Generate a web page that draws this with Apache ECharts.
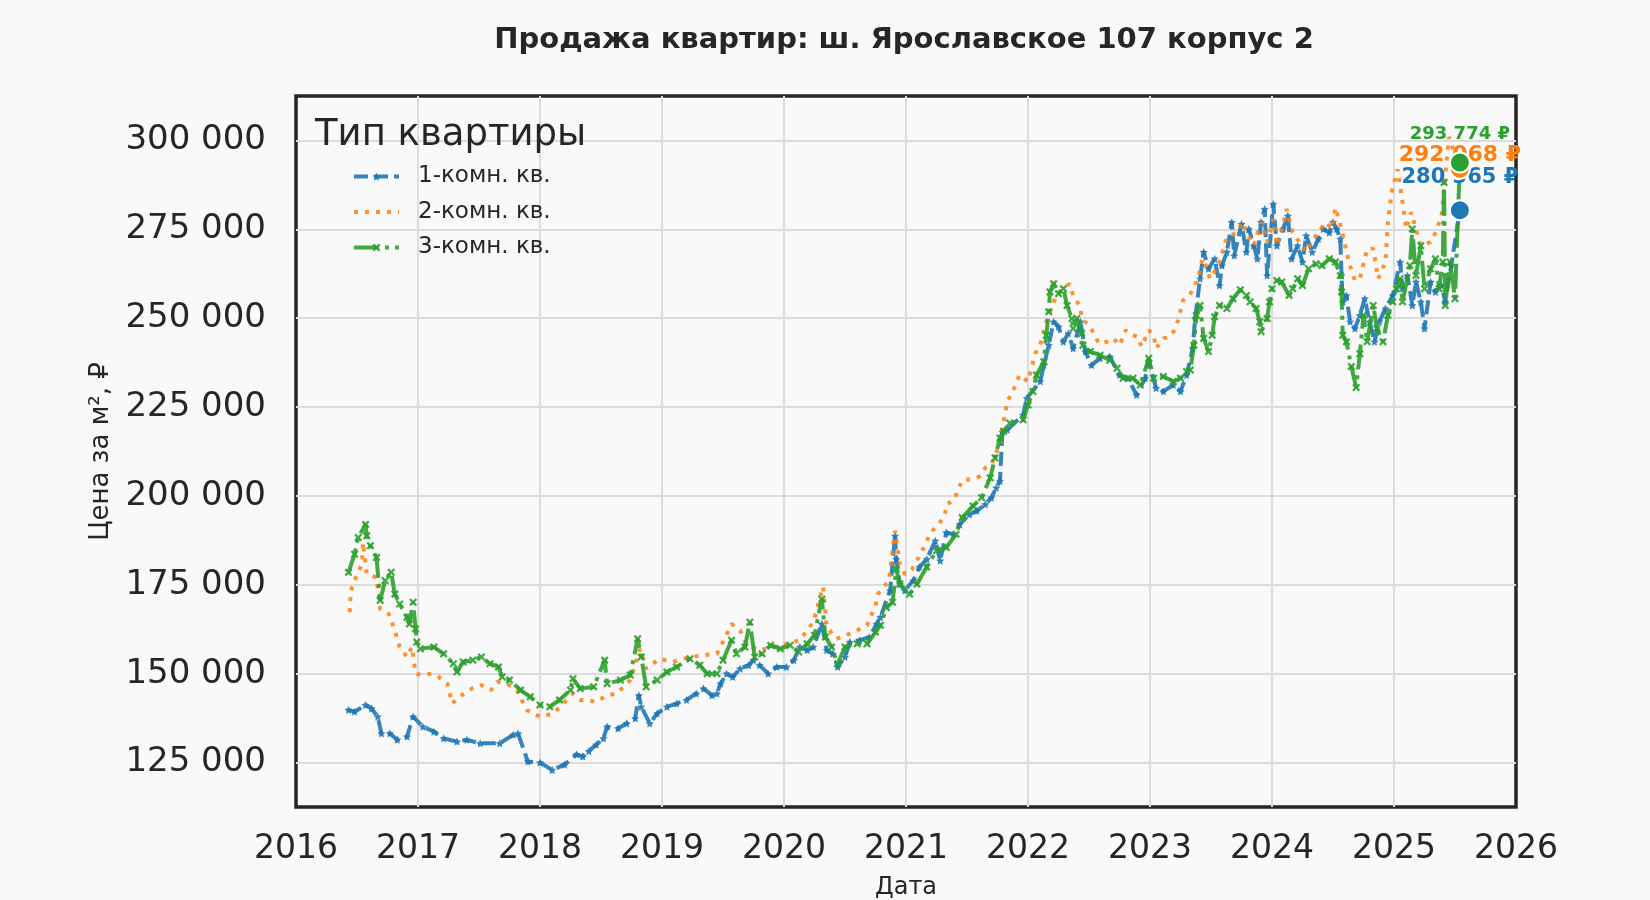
<!DOCTYPE html>
<html>
<head>
<meta charset="utf-8">
<script src="https://cdn.jsdelivr.net/npm/echarts@6/dist/echarts.min.js"></script>
<style>
html,body{margin:0;padding:0;background:#f9f9fa;}
#chart{width:1650px;height:900px;}
</style>
</head>
<body>
<div id="chart"></div>
<script>
/* Продажа квартир: ш. Ярославское 107 корпус 2 */
var titleText = 'Продажа квартир: ш. Ярославское 107 корпус 2';
var legendTitle = 'Тип квартиры';
var names = ['1-комн. кв.', '2-комн. кв.', '3-комн. кв.'];
var colors = ['#1f77b4', '#ff7f0e', '#2ca02c'];

// 1-комн. кв. (дата в долях года, цена за м²)
var t1 = [2016.43,2016.48,2016.57,2016.62,2016.67,2016.70,2016.77,2016.83,2016.91,2016.96,
  2017.04,2017.13,2017.21,2017.32,2017.40,2017.51,2017.67,2017.78,2017.82,2017.90,
  2018.00,2018.10,2018.20,2018.30,2018.35,2018.40,2018.46,2018.52,2018.55,2018.64,
  2018.71,2018.78,2018.81,2018.83,2018.90,2018.96,2019.04,2019.12,2019.20,2019.28,
  2019.34,2019.41,2019.45,2019.48,2019.53,2019.58,2019.64,2019.71,2019.75,2019.80,
  2019.87,2019.94,2020.02,2020.08,2020.13,2020.19,2020.24,2020.31,2020.35,2020.40,
  2020.44,2020.50,2020.54,2020.62,2020.70,2020.76,2020.79,2020.87,2020.91,2020.92,
  2020.95,2020.99,2021.06,2021.11,2021.17,2021.24,2021.28,2021.33,2021.39,2021.44,
  2021.52,2021.58,2021.65,2021.70,2021.74,2021.77,2021.79,2021.83,2021.96,2021.99,
  2022.10,2022.13,2022.17,2022.21,2022.25,2022.29,2022.33,2022.37,2022.43,2022.47,
  2022.52,2022.59,2022.67,2022.75,2022.82,2022.89,2022.96,2022.99,2023.05,2023.11,
  2023.19,2023.25,2023.30,2023.35,2023.37,2023.41,2023.44,2023.48,2023.53,2023.57,
  2023.59,2023.63,2023.67,2023.69,2023.75,2023.79,2023.81,2023.85,2023.88,2023.91,
  2023.94,2023.96,2024.01,2024.04,2024.09,2024.13,2024.16,2024.21,2024.25,2024.28,
  2024.33,2024.38,2024.42,2024.47,2024.50,2024.53,2024.56,2024.57,2024.58,2024.61,
  2024.64,2024.68,2024.72,2024.76,2024.80,2024.84,2024.88,2024.93,2024.99,2025.05,
  2025.07,2025.11,2025.15,2025.18,2025.22,2025.25,2025.30,2025.34,2025.39,2025.42,
  2025.47,2025.54];
var v1 = [139800,139300,141200,140200,137900,133200,133200,131400,132300,137900,
  135100,133700,131800,130900,131400,130400,130400,132800,133200,125300,
  125000,122900,124400,127300,126700,128200,130000,131800,135100,134600,
  136000,137400,143900,140700,136000,138800,140700,141600,142600,144400,
  145800,143900,144400,147200,150000,149100,151400,152400,153800,152400,
  150000,151900,151900,153800,157500,156600,157500,164000,156600,155600,
  151900,154700,158900,159400,160300,164000,165900,173400,188800,182200,
  175200,173400,176200,180000,182200,187400,181800,189700,189200,192000,
  194800,195800,197600,199500,202300,204200,218000,218600,222800,227500,
  232200,236800,242400,249000,247600,243400,245700,241500,249000,240600,
  236800,238700,239200,234000,233100,228400,233100,237800,230300,229400,
  231200,229400,234000,241500,249900,261100,268600,263900,266700,259200,
  264800,268600,277000,267600,276500,268600,275100,270400,266700,277000,
  280700,262000,282100,270400,275100,278800,266700,270400,265800,273200,
  268600,272300,275100,274100,277000,275100,272300,262000,254600,256400,
  249000,247100,250800,255500,249000,243400,249000,252700,256400,265800,
  258300,262000,253600,260200,254600,247100,260200,257400,259200,254600,
  265000,280365];

// 2-комн. кв.
var t2 = [2016.44,2016.45,2016.48,2016.54,2016.55,2016.58,2016.66,2016.69,2016.76,2016.81,
  2016.85,2016.91,2016.95,2016.98,2017.03,2017.11,2017.17,2017.24,2017.28,2017.34,
  2017.44,2017.52,2017.60,2017.65,2017.73,2017.81,2017.89,2018.00,2018.11,2018.19,
  2018.27,2018.33,2018.38,2018.46,2018.55,2018.63,2018.74,2018.82,2018.87,2018.98,
  2019.09,2019.23,2019.34,2019.45,2019.52,2019.57,2019.64,2019.69,2019.80,2019.91,
  2020.02,2020.13,2020.24,2020.32,2020.35,2020.43,2020.51,2020.60,2020.68,2020.75,
  2020.77,2020.86,2020.91,2020.95,2020.99,2021.05,2021.09,2021.16,2021.20,2021.27,
  2021.32,2021.33,2021.40,2021.43,2021.47,2021.54,2021.61,2021.65,2021.70,2021.73,
  2021.77,2021.80,2021.83,2021.88,2021.93,2022.00,2022.06,2022.10,2022.14,2022.17,
  2022.21,2022.26,2022.34,2022.37,2022.43,2022.44,2022.51,2022.58,2022.65,2022.70,
  2022.75,2022.80,2022.86,2022.90,2022.93,2022.99,2023.03,2023.05,2023.11,2023.16,
  2023.20,2023.23,2023.27,2023.31,2023.36,2023.40,2023.43,2023.47,2023.49,2023.56,
  2023.63,2023.71,2023.76,2023.79,2023.85,2023.91,2023.96,2024.01,2024.04,2024.09,
  2024.12,2024.17,2024.28,2024.36,2024.44,2024.49,2024.52,2024.57,2024.63,2024.68,
  2024.72,2024.78,2024.83,2024.87,2024.93,2024.95,2024.98,2025.03,2025.07,2025.10,
  2025.14,2025.18,2025.22,2025.30,2025.34,2025.39,2025.41,2025.45,2025.54];
var v2 = [167300,173400,176200,180800,186900,178000,177100,168200,166800,162200,
  157500,154700,157500,150000,149600,150000,149100,147200,141600,143500,
  145800,146800,145400,147700,147200,145400,139800,137900,138800,141600,
  144400,142600,142600,142100,143900,144400,148200,157000,151400,154200,
  153300,154700,155200,155600,160300,164000,162200,158400,156600,157500,
  158400,159400,164500,174500,163100,159800,160800,162200,163600,169200,
  172400,176200,190200,180800,178000,179400,181800,186400,189700,192000,
  194800,197600,199000,202300,204600,204600,205600,207900,208800,211600,
  214400,220900,226500,229800,234000,232200,240100,242400,248000,250800,
  254600,257400,259700,256400,253100,249900,247600,242900,243400,244300,
  242400,246600,245200,244800,242000,246600,245200,241500,244300,244800,
  246600,249400,255000,255900,258300,262000,266700,263900,261100,264800,
  272700,274100,277000,274100,270400,277000,271400,277900,270400,276000,
  280700,274100,268600,273200,277000,275100,281100,275100,265800,260600,
  261100,269500,269500,261100,265800,277000,285400,291900,282600,275100,
  279800,275100,270400,271400,274100,278800,286300,301000,292068];

// 3-комн. кв.
var t3 = [2016.43,2016.48,2016.51,2016.57,2016.58,2016.61,2016.66,2016.69,2016.73,2016.78,
  2016.81,2016.85,2016.91,2016.93,2016.96,2016.98,2016.99,2017.02,2017.13,2017.21,
  2017.29,2017.32,2017.37,2017.45,2017.52,2017.59,2017.66,2017.69,2017.75,2017.84,
  2017.92,2018.00,2018.08,2018.16,2018.25,2018.27,2018.33,2018.44,2018.53,2018.55,
  2018.66,2018.74,2018.80,2018.83,2018.87,2018.96,2019.04,2019.12,2019.23,2019.31,
  2019.37,2019.45,2019.50,2019.57,2019.61,2019.68,2019.72,2019.76,2019.82,2019.89,
  2019.97,2020.05,2020.12,2020.19,2020.25,2020.31,2020.34,2020.39,2020.44,2020.50,
  2020.60,2020.68,2020.75,2020.79,2020.84,2020.89,2020.92,2020.95,2021.03,2021.09,
  2021.17,2021.25,2021.33,2021.41,2021.46,2021.55,2021.62,2021.69,2021.73,2021.77,
  2021.80,2021.85,2021.96,2022.00,2022.04,2022.07,2022.13,2022.15,2022.17,2022.18,
  2022.21,2022.25,2022.29,2022.32,2022.36,2022.37,2022.40,2022.44,2022.45,2022.51,
  2022.59,2022.67,2022.73,2022.78,2022.86,2022.92,2022.99,2023.03,2023.11,2023.19,
  2023.25,2023.30,2023.33,2023.36,2023.38,2023.41,2023.44,2023.48,2023.51,2023.53,
  2023.57,2023.63,2023.68,2023.74,2023.79,2023.82,2023.87,2023.90,2023.91,2023.96,
  2023.98,2024.00,2024.04,2024.08,2024.14,2024.17,2024.21,2024.25,2024.30,2024.36,
  2024.41,2024.47,2024.52,2024.56,2024.57,2024.58,2024.61,2024.65,2024.69,2024.72,
  2024.75,2024.78,2024.83,2024.86,2024.91,2024.95,2024.99,2025.02,2025.05,2025.07,
  2025.13,2025.15,2025.18,2025.22,2025.25,2025.30,2025.34,2025.37,2025.40,2025.41,
  2025.42,2025.46,2025.50,2025.54];
var v3 = [178500,183600,188300,192000,188800,186000,182700,170600,176200,178500,
  172400,169600,165900,164000,170100,162600,158900,157000,157500,155600,
  152800,150500,153300,153800,154700,152800,151900,149100,148200,145400,
  143500,141200,140700,142600,145400,148600,145800,146300,153800,147200,
  148200,149600,159800,154700,146300,148200,150500,151900,154200,152400,
  150000,150000,153800,159400,155600,157500,164500,154700,155600,158000,
  157000,158000,156100,158400,160800,171000,160300,157500,152800,157500,
  158400,158400,161700,163600,168600,170100,179400,175200,172400,175200,
  180000,184600,185500,189200,193900,197200,199500,205100,210700,216300,
  218200,220500,221400,225600,229400,234000,237800,245200,251800,257400,
  259700,256900,258300,253600,249900,247100,249900,245700,242400,240600,
  239600,238200,235900,233100,233100,231200,238700,233100,233600,232200,
  233100,235000,235400,242400,250800,253600,244300,240600,245200,250400,
  253600,252700,255500,258000,256400,254600,252700,249000,246200,249900,
  254600,258300,260600,260200,256400,258300,261100,259200,263900,265300,
  264800,266700,265800,262000,257400,245200,243400,236400,230500,240000,
  250800,243400,253600,247100,243400,250800,254600,258300,261100,254600,
  264800,275100,262000,270400,258300,263900,266700,258300,265800,288200,
  253600,265800,255500,293774];

// y ticks every 25 000, x ticks every year
var yMin = 112500, yMax = 312500, yStep = 25000;
var xMin = 2016, xMax = 2026;

function pairs(t, v) {
  var out = [];
  for (var i = 0; i < t.length; i++) out.push([t[i], v[i]]);
  return out;
}
function fmt(v) {
  return String(Math.round(v)).replace(/\B(?=(\d{3})+(?!\d))/g, ' ');
}

var FONT = 'DejaVu Sans';
var INK = '#262626';
var starPath = 'path://M0,-10L2.9,-4L9.5,-3.1L4.8,1.5L5.9,8.1L0,5L-5.9,8.1L-4.8,1.5L-9.5,-3.1L-2.9,-4Z';
var crossPath = 'path://M-10,-6L-6,-10L0,-4L6,-10L10,-6L4,0L10,6L6,10L0,4L-6,10L-10,6L-4,0Z';

var chart = echarts.init(document.getElementById('chart'));

// end-point dots with value labels
function endPoint(t, v, color, z, fontSize, dy) {
  return {
    type: 'scatter',
    z: z,
    silent: true,
    symbol: 'circle',
    symbolSize: 20,
    itemStyle: { color: color, borderColor: '#ffffff', borderWidth: 2, opacity: 1 },
    label: {
      show: true,
      position: 'inside',
      offset: [0, dy],
      formatter: fmt(v) + ' ₽',
      color: color,
      fontFamily: FONT,
      fontWeight: 'bold',
      fontSize: fontSize
    },
    data: [[t, v]]
  };
}

var option = {
  backgroundColor: '#f9f9fa',
  animation: false,
  textStyle: { fontFamily: FONT },
  graphic: [
    {
      type: 'text', x: 904, y: 40,
      style: { text: titleText, fontFamily: FONT, fontSize: 29, fontWeight: 'bold',
               fill: INK, align: 'center', verticalAlign: 'middle' }
    },
    {
      type: 'text', x: 315, y: 135, z: 100,
      style: { text: legendTitle, fontFamily: FONT, fontSize: 37,
               fill: INK, align: 'left', verticalAlign: 'middle' }
    }
  ],
  grid: {
    show: true,
    left: 296, right: 134, top: 96, bottom: 93,
    outerBoundsMode: 'none',
    backgroundColor: '#f9f9fa',
    borderColor: INK,
    borderWidth: 3.5
  },
  legend: {
    data: [
      { name: names[0] },
      { name: names[1], itemStyle: { opacity: 0 } },
      { name: names[2] }
    ],
    orient: 'vertical',
    left: 347, top: 160,
    itemWidth: 45, itemHeight: 10,
    itemGap: 12.5,
    lineStyle: { width: 4 },
    textStyle: { fontFamily: FONT, fontSize: 23, color: INK, padding: [0, 0, 0, 14] }
  },
  xAxis: {
    type: 'value',
    min: xMin, max: xMax, interval: 1,
    name: 'Дата',
    nameLocation: 'middle',
    nameGap: 69,
    nameTextStyle: { fontFamily: FONT, fontSize: 24, color: INK },
    axisLine: { show: false },
    axisTick: { show: false },
    axisLabel: { fontFamily: FONT, fontSize: 33, color: INK, margin: 26,
                 formatter: function (v) { return String(v); } },
    splitLine: { show: true, showMinLine: false, showMaxLine: false,
                 lineStyle: { color: '#dcdcdc', width: 2 } }
  },
  yAxis: {
    type: 'value',
    min: yMin, max: yMax, interval: yStep / 2,
    name: 'Цена за м², ₽',
    nameLocation: 'middle',
    nameGap: 177,
    nameTextStyle: { fontFamily: FONT, fontSize: 26, color: INK },
    axisLine: { show: false },
    axisTick: { show: false },
    axisLabel: {
      fontFamily: FONT, fontSize: 34, color: INK, margin: 30,
      formatter: function (v) { return v % yStep === 0 ? fmt(v) : ''; }
    },
    splitLine: { show: true, lineStyle: { color: ['rgba(0,0,0,0)', '#dcdcdc'], width: 2 } }
  },
  series: [
    {
      name: names[0],
      type: 'line',
      z: 2,
      symbol: starPath,
      symbolSize: 8,
      showAllSymbol: true,
      itemStyle: { color: colors[0], opacity: 0.9 },
      lineStyle: { color: colors[0], width: 4, type: [14, 6], opacity: 0.9 },
      data: pairs(t1, v1)
    },
    {
      name: names[1],
      type: 'line',
      z: 3,
      symbol: 'none',
      itemStyle: { color: colors[1] },
      lineStyle: { color: colors[1], width: 4, type: [4, 7], opacity: 0.85 },
      data: pairs(t2, v2)
    },
    {
      name: names[2],
      type: 'line',
      z: 4,
      symbol: crossPath,
      symbolSize: 8,
      showAllSymbol: true,
      itemStyle: { color: colors[2], opacity: 0.9 },
      lineStyle: { color: colors[2], width: 4, type: [25, 6, 4, 6], opacity: 0.9 },
      data: pairs(t3, v3)
    },
    endPoint(t1[t1.length - 1], v1[v1.length - 1], colors[0], 10, 21, -33),
    endPoint(t2[t2.length - 1], v2[v2.length - 1], colors[1], 11, 22, -13),
    endPoint(t3[t3.length - 1], v3[v3.length - 1], colors[2], 12, 18, -28)
  ]
};

chart.setOption(option);
</script>
</body>
</html>
